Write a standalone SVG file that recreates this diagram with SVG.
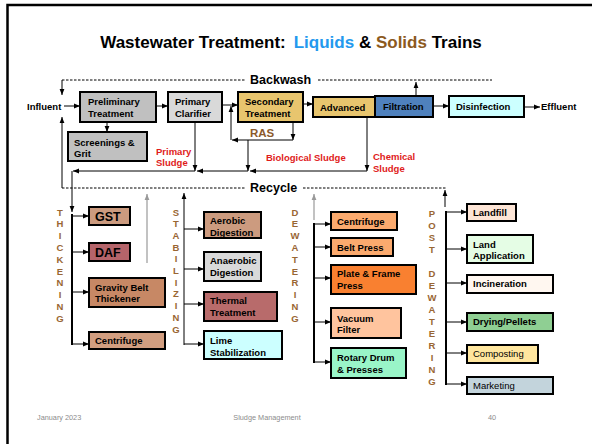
<svg xmlns="http://www.w3.org/2000/svg" width="592" height="444" viewBox="0 0 592 444">
<defs>
<marker id="a" viewBox="0 0 10 10" refX="10" refY="5" markerWidth="6" markerHeight="6" markerUnits="userSpaceOnUse" orient="auto"><path d="M0,1 L10,5 L0,9 z" fill="#000"/></marker>
<marker id="g" viewBox="0 0 10 10" refX="10" refY="5" markerWidth="6" markerHeight="6" markerUnits="userSpaceOnUse" orient="auto"><path d="M0,1 L10,5 L0,9 z" fill="#999"/></marker>
<style>
.t{font-family:"Liberation Sans",Arial,sans-serif;font-weight:bold;font-size:9.5px;fill:#000}
.n{font-weight:normal}
.b{stroke:#000;stroke-width:2}
.c{fill:none;stroke:#000;stroke-width:1}
.cg{fill:none;stroke:#999;stroke-width:1.2}
.br{fill:none;stroke:#000;stroke-width:2}
.d{fill:none;stroke:#000;stroke-width:1;stroke-dasharray:2.5 1.5}
.red{fill:#e01b1b}
.brn{fill:#996633}
.ft{font-family:"Liberation Sans",Arial,sans-serif;font-size:7.3px;fill:#8c8c8c}
</style>
</defs>
<rect width="592" height="444" fill="#fff"/>
<path d="M7.5,444 V5 H592" fill="none" stroke="#000" stroke-width="2.5"/>

<text x="291" y="48" text-anchor="middle" style="font-family:'Liberation Sans',Arial,sans-serif;font-weight:bold;font-size:17px"><tspan fill="#000">Wastewater Treatment:</tspan><tspan dx="8" fill="#2399ee">Liquids</tspan><tspan fill="#000"> &amp; </tspan><tspan fill="#8c5a1e">Solids</tspan><tspan fill="#000"> Trains</tspan></text>

<g id="labels">
<text class="t" x="27" y="110">Influent</text>
<text class="t" x="541" y="110">Effluent</text>
<text class="t" x="250" y="84" style="font-size:12.5px">Backwash</text>
<text class="t" x="250" y="192" style="font-size:12.5px">Recycle</text>
<text class="t" x="250" y="137" style="font-size:11.5px;fill:#8b5a2b">RAS</text>
<text class="t red" x="156" y="155">Primary</text>
<text class="t red" x="156" y="166">Sludge</text>
<text class="t red" x="266" y="161">Biological Sludge</text>
<text class="t red" x="373" y="160">Chemical</text>
<text class="t red" x="373" y="172">Sludge</text>
<text class="t brn" text-anchor="middle"><tspan x="60" y="215.5">T</tspan><tspan x="60" dy="11.8">H</tspan><tspan x="60" dy="11.8">I</tspan><tspan x="60" dy="11.8">C</tspan><tspan x="60" dy="11.8">K</tspan><tspan x="60" dy="11.8">E</tspan><tspan x="60" dy="11.8">N</tspan><tspan x="60" dy="11.8">I</tspan><tspan x="60" dy="11.8">N</tspan><tspan x="60" dy="11.8">G</tspan></text>
<text class="t brn" text-anchor="middle"><tspan x="176" y="215.5">S</tspan><tspan x="176" dy="11.7">T</tspan><tspan x="176" dy="11.7">A</tspan><tspan x="176" dy="11.7">B</tspan><tspan x="176" dy="11.7">I</tspan><tspan x="176" dy="11.7">L</tspan><tspan x="176" dy="11.7">I</tspan><tspan x="176" dy="11.7">Z</tspan><tspan x="176" dy="11.7">I</tspan><tspan x="176" dy="11.7">N</tspan><tspan x="176" dy="11.7">G</tspan></text>
<text class="t brn" text-anchor="middle"><tspan x="295" y="215.5">D</tspan><tspan x="295" dy="11.8">E</tspan><tspan x="295" dy="11.8">W</tspan><tspan x="295" dy="11.8">A</tspan><tspan x="295" dy="11.8">T</tspan><tspan x="295" dy="11.8">E</tspan><tspan x="295" dy="11.8">R</tspan><tspan x="295" dy="11.8">I</tspan><tspan x="295" dy="11.8">N</tspan><tspan x="295" dy="11.8">G</tspan></text>
<text class="t brn" text-anchor="middle"><tspan x="432" y="216.5">P</tspan><tspan x="432" dy="12">O</tspan><tspan x="432" dy="12">S</tspan><tspan x="432" dy="12">T</tspan><tspan x="432" dy="24">D</tspan><tspan x="432" dy="12">E</tspan><tspan x="432" dy="12">W</tspan><tspan x="432" dy="12">A</tspan><tspan x="432" dy="12">T</tspan><tspan x="432" dy="12">E</tspan><tspan x="432" dy="12">R</tspan><tspan x="432" dy="12">I</tspan><tspan x="432" dy="12">N</tspan><tspan x="432" dy="12">G</tspan></text>
</g>

<g id="connectors">
<path class="d" d="M62,80 H246 M318,80 H492"/>
<path class="d" d="M62,188 H246 M303,188 H447"/>
<path class="c" d="M62,80 V95" marker-end="url(#a)"/>
<path class="c" d="M62,188 V117" marker-end="url(#a)"/>
<path class="c" d="M64,106 H80" marker-end="url(#a)"/>
<path class="c" d="M156,106 H168" marker-end="url(#a)"/>
<path class="c" d="M222,105 H238" marker-end="url(#a)"/>
<path class="c" d="M303,104 H313" marker-end="url(#a)"/>
<path class="c" d="M433,106 H449" marker-end="url(#a)"/>
<path class="c" d="M524,107 H540" marker-end="url(#a)"/>
<path class="c" d="M416,96 V82" marker-end="url(#a)"/>
<path class="c" d="M107,122 V132" marker-end="url(#a)"/>
<path class="c" d="M293,122 V140" marker-end="url(#a)"/>
<path class="c" d="M293,140 H232" marker-end="url(#a)"/>
<path class="c" d="M231,140 V106" marker-end="url(#a)"/>
<path class="c" d="M248,140 V171" marker-end="url(#a)"/>
<path class="c" d="M195,122 V171" marker-end="url(#a)"/>
<path class="c" d="M367,117 V171" marker-end="url(#a)"/>
<path class="c" d="M367,171 H250" marker-end="url(#a)"/>
<path class="c" d="M248,171 H197" marker-end="url(#a)"/>
<path class="c" d="M195,171 H73" marker-end="url(#a)"/>
<path class="c" d="M72,171 V212" marker-end="url(#a)"/>
<path class="cg" d="M147,263 V194" marker-end="url(#g)"/>
<path class="cg" d="M314,220 V194" marker-end="url(#g)"/>
<path class="c" d="M184,345 V193" marker-end="url(#a)"/>
<path class="c" d="M445,207 V190" marker-end="url(#a)"/>
<path class="br" d="M72,214 V345"/>
<path class="br" d="M314,223 V363"/>
<path class="br" d="M446,211 V385"/>
<path class="c" d="M72,216 H89" marker-end="url(#a)"/>
<path class="c" d="M72,252 H89" marker-end="url(#a)"/>
<path class="c" d="M72,292 H89" marker-end="url(#a)"/>
<path class="c" d="M72,344 H89" marker-end="url(#a)"/>
<path class="c" d="M184,229 H204" marker-end="url(#a)"/>
<path class="c" d="M184,269 H204" marker-end="url(#a)"/>
<path class="c" d="M184,304 H204" marker-end="url(#a)"/>
<path class="c" d="M184,344 H204" marker-end="url(#a)"/>
<path class="c" d="M314,224 H331" marker-end="url(#a)"/>
<path class="c" d="M314,247 H331" marker-end="url(#a)"/>
<path class="c" d="M314,278 H331" marker-end="url(#a)"/>
<path class="c" d="M314,322 H331" marker-end="url(#a)"/>
<path class="c" d="M314,362 H331" marker-end="url(#a)"/>
<path class="c" d="M446,212 H467" marker-end="url(#a)"/>
<path class="c" d="M446,249 H467" marker-end="url(#a)"/>
<path class="c" d="M446,283 H467" marker-end="url(#a)"/>
<path class="c" d="M446,322 H467" marker-end="url(#a)"/>
<path class="c" d="M446,353 H467" marker-end="url(#a)"/>
<path class="c" d="M446,384 H467" marker-end="url(#a)"/>
</g>

<g id="preliminary"><rect class="b" x="80" y="92" width="76" height="30" fill="#c0c0c0"/><text class="t" x="88" y="105">Preliminary</text><text class="t" x="88" y="117">Treatment</text></g>
<g id="primary"><rect class="b" x="168" y="92" width="54" height="30" fill="#d9d9d9"/><text class="t" x="175" y="105">Primary</text><text class="t" x="175" y="117">Clarifier</text></g>
<g id="secondary"><rect class="b" x="238" y="92" width="65" height="30" fill="#e8c56e"/><text class="t" x="245" y="105">Secondary</text><text class="t" x="245" y="117">Treatment</text></g>
<g id="advanced"><rect class="b" x="313" y="97" width="62" height="20" fill="#e8c56e"/><text class="t" x="320" y="111">Advanced</text></g>
<g id="filtration"><rect class="b" x="375" y="96" width="58" height="21" fill="#4f81bd"/><text class="t" x="383" y="110">Filtration</text></g>
<g id="disinfection"><rect class="b" x="449" y="96" width="75" height="21" fill="#ccffff"/><text class="t" x="456" y="110">Disinfection</text></g>
<g id="screenings"><rect class="b" x="68" y="132" width="79" height="29" fill="#c0c0c0"/><text class="t" x="74" y="146">Screenings &amp;</text><text class="t" x="74" y="157">Grit</text></g>

<g id="gst"><rect class="b" x="89" y="207" width="41" height="18" fill="#cc9b7f"/><text class="t" x="95" y="221" style="font-size:12.5px">GST</text></g>
<g id="daf"><rect class="b" x="89" y="243" width="41" height="18" fill="#b5646a"/><text class="t" x="95" y="257" style="font-size:12.5px">DAF</text></g>
<g id="gbt"><rect class="b" x="89" y="278" width="76" height="29" fill="#c78865"/><text class="t" x="95" y="290.5">Gravity Belt</text><text class="t" x="95" y="302">Thickener</text></g>
<g id="centrifuge1"><rect class="b" x="89" y="332" width="76" height="17" fill="#d29e80"/><text class="t" x="95" y="344">Centrifuge</text></g>

<g id="aerobic"><rect class="b" x="204" y="212" width="57" height="26" fill="#cc9b7f"/><text class="t" x="210" y="223.5">Aerobic</text><text class="t" x="210" y="235.5">Digestion</text></g>
<g id="anaerobic"><rect class="b" x="204" y="252" width="57" height="29" fill="#d9d9d9"/><text class="t" x="210" y="263.5">Anaerobic</text><text class="t" x="210" y="275.5">Digestion</text></g>
<g id="thermal"><rect class="b" x="204" y="292" width="73" height="29" fill="#b86b6b"/><text class="t" x="210" y="303.5">Thermal</text><text class="t" x="210" y="315.5">Treatment</text></g>
<g id="lime"><rect class="b" x="204" y="331" width="78" height="28" fill="#ccffff"/><text class="t" x="210" y="343.5">Lime</text><text class="t" x="210" y="355.5">Stabilization</text></g>

<g id="centrifuge2"><rect class="b" x="331" y="212" width="66" height="18" fill="#fbaa6e"/><text class="t" x="337" y="224.5">Centrifuge</text></g>
<g id="beltpress"><rect class="b" x="331" y="238" width="62" height="18" fill="#fbaa6e"/><text class="t" x="337" y="250.5">Belt Press</text></g>
<g id="plateframe"><rect class="b" x="331" y="265" width="85" height="29" fill="#f98030"/><text class="t" x="337" y="277">Plate &amp; Frame</text><text class="t" x="337" y="289">Press</text></g>
<g id="vacuum"><rect class="b" x="331" y="308" width="70" height="30" fill="#ffc49e"/><text class="t" x="337" y="321.5">Vacuum</text><text class="t" x="337" y="332.5">Filter</text></g>
<g id="rotary"><rect class="b" x="331" y="348" width="75" height="30" fill="#99f5c8"/><text class="t" x="337" y="360.5">Rotary Drum</text><text class="t" x="337" y="372.5">&amp; Presses</text></g>

<g id="landfill"><rect class="b" x="467" y="204" width="49" height="17" fill="#fde5d6"/><text class="t" x="473" y="216">Landfill</text></g>
<g id="landapp"><rect class="b" x="467" y="235" width="66" height="28" fill="#e5fde5"/><text class="t" x="473" y="247.5">Land</text><text class="t" x="473" y="259">Application</text></g>
<g id="incineration"><rect class="b" x="467" y="275" width="86" height="18" fill="#fff7f0"/><text class="t" x="473" y="287">Incineration</text></g>
<g id="drying"><rect class="b" x="467" y="313" width="86" height="18" fill="#8fcf93"/><text class="t" x="473" y="325">Drying/Pellets</text></g>
<g id="composting"><rect class="b" x="467" y="345" width="71" height="18" fill="#ffe69e"/><text class="t n" x="473" y="357">Composting</text></g>
<g id="marketing"><rect class="b" x="467" y="377" width="86" height="17" fill="#c3d4dc"/><text class="t n" x="473" y="389">Marketing</text></g>

<g id="footer">
<text class="ft" x="37" y="420">January 2023</text>
<text class="ft" x="267" y="420" text-anchor="middle">Sludge Management</text>
<text class="ft" x="488" y="420">40</text>
</g>
</svg>
